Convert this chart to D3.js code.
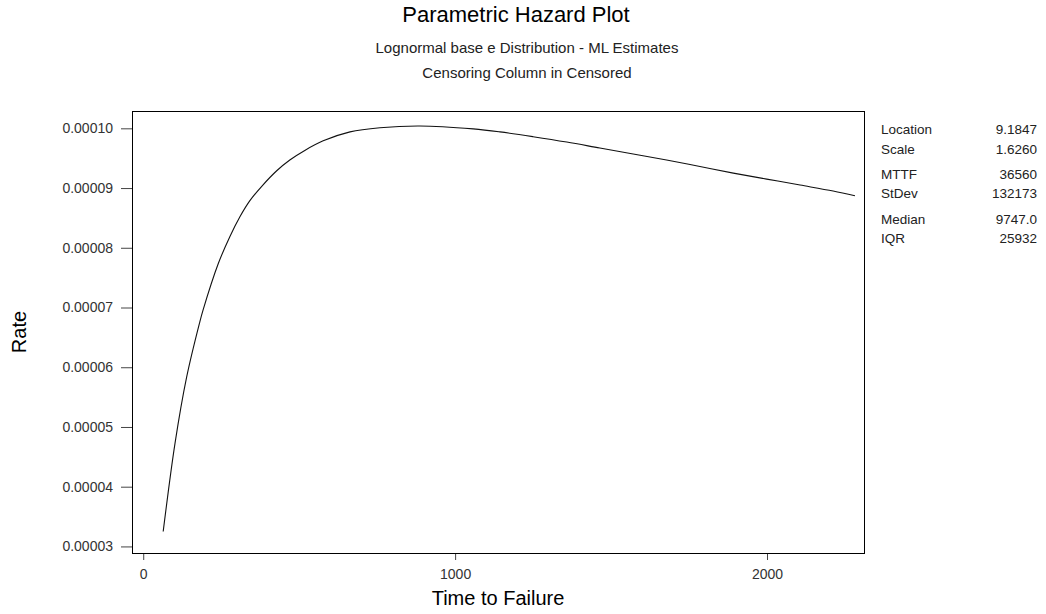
<!DOCTYPE html>
<html>
<head>
<meta charset="utf-8">
<script src="https://cdn.jsdelivr.net/npm/d3@7"></script>
<style>
  html, body { margin: 0; padding: 0; background: #fff; }
  svg { display: block; }
  text { font-family: "Liberation Sans", Arial, sans-serif; }
</style>
</head>
<body>
<svg id="chart" width="1046" height="614"></svg>
<script>
// ---- data ----
const times = [64, 102, 139, 180, 192, 241, 278, 310, 342, 380, 428, 470, 518, 577, 663, 759, 887, 1058, 1144, 1250, 1358, 1464, 1571, 1678, 1785, 1892, 1999, 2106, 2212, 2282];
const rates = [3.25e-5, 4.73e-5, 5.83e-5, 6.73e-5, 6.96e-5, 7.74e-5, 8.19e-5, 8.52e-5, 8.79e-5, 9.03e-5, 9.29e-5, 9.47e-5, 9.63e-5, 9.79e-5, 9.94e-5, 10.01e-5, 10.04e-5, 9.99e-5, 9.94e-5, 9.86e-5, 9.77e-5, 9.67e-5, 9.57e-5, 9.47e-5, 9.36e-5, 9.25e-5, 9.15e-5, 9.05e-5, 8.95e-5, 8.87e-5];
const xTicks = [0, 1000, 2000];
const yTicks = [0.00003, 0.00004, 0.00005, 0.00006, 0.00007, 0.00008, 0.00009, 0.00010];
const statLabels = ["Location", "Scale", "MTTF", "StDev", "Median", "IQR"];
const statValues = ["9.1847", "1.6260", "36560", "132173", "9747.0", "25932"];
const titleText = "Parametric Hazard Plot";
const subtitles = ["Lognormal base e Distribution - ML Estimates", "Censoring Column in Censored"];
const xLabel = "Time to Failure";
const yLabel = "Rate";

// ---- layout ----
const L = 132, R = 864, T = 111, B = 553;
const svg = d3.select("#chart");

const x = d3.scaleLinear().domain([-36, 2311]).range([L, R]);
const y = d3.scaleLinear().domain([0.0000289, 0.0001029]).range([B, T]);

// titles
svg.append("text").attr("x", 516).attr("y", 14).attr("text-anchor", "middle")
  .attr("dominant-baseline", "central").attr("font-size", 22).attr("fill", "#000").text(titleText);
subtitles.forEach((s, i) => {
  svg.append("text").attr("x", 527).attr("y", 47 + i * 25).attr("text-anchor", "middle")
    .attr("dominant-baseline", "central").attr("font-size", 15).attr("fill", "#222").text(s);
});

// axes
const yAxis = d3.axisLeft(y).tickValues(yTicks).tickSize(11).tickPadding(8)
  .tickFormat(d3.format(".5f"));
const gy = svg.append("g").attr("transform", `translate(${L},0)`).call(yAxis);
gy.select(".domain").remove();
gy.selectAll(".tick line").attr("stroke", "#444");
gy.selectAll(".tick text").attr("font-size", 14).attr("fill", "#333")
  .attr("font-family", "Liberation Sans, Arial, sans-serif");

const xAxis = d3.axisBottom(x).tickValues(xTicks).tickSize(7).tickPadding(9)
  .tickFormat(d3.format("d"));
const gx = svg.append("g").attr("transform", `translate(0,${B})`).call(xAxis);
gx.select(".domain").remove();
gx.selectAll(".tick line").attr("stroke", "#444");
gx.selectAll(".tick text").attr("font-size", 14).attr("fill", "#333")
  .attr("font-family", "Liberation Sans, Arial, sans-serif");

// frame
svg.append("rect").attr("x", L + 0.5).attr("y", T + 0.5).attr("width", R - L).attr("height", B - T)
  .attr("fill", "none").attr("stroke", "#000").attr("stroke-width", 1);

// curve
const pts = times.map((t, i) => [t, rates[i]]);
const line = d3.line().x(d => x(d[0])).y(d => y(d[1])).curve(d3.curveCatmullRom.alpha(0.5));
svg.append("path").datum(pts).attr("d", line).attr("fill", "none")
  .attr("stroke", "#111").attr("stroke-width", 1.1);

// axis labels
svg.append("text").attr("x", (L + R) / 2).attr("y", 598).attr("text-anchor", "middle")
  .attr("dominant-baseline", "central").attr("font-size", 20).attr("fill", "#000").text(xLabel);
svg.append("text").attr("transform", "translate(19,332) rotate(-90)").attr("text-anchor", "middle")
  .attr("dominant-baseline", "central").attr("font-size", 20).attr("fill", "#000").text(yLabel);

// statistics table
const statY = [129, 149, 174, 193, 219, 238];
statLabels.forEach((s, i) => {
  svg.append("text").attr("x", 881).attr("y", statY[i]).attr("dominant-baseline", "central")
    .attr("font-size", 13.5).attr("fill", "#222").text(s);
  svg.append("text").attr("x", 1037).attr("y", statY[i]).attr("dominant-baseline", "central")
    .attr("text-anchor", "end").attr("font-size", 13.5).attr("fill", "#222").text(statValues[i]);
});
</script>
</body>
</html>
